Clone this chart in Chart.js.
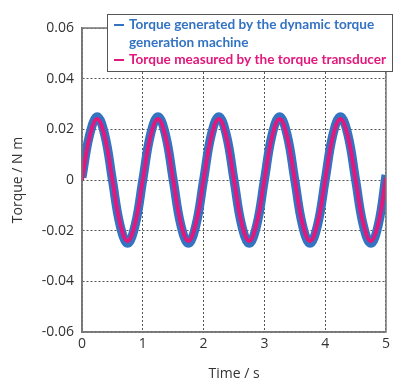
<!DOCTYPE html>
<html>
<head>
<meta charset="utf-8">
<script src="https://cdn.jsdelivr.net/npm/chart.js@4"></script>
<style>
  html, body { margin: 0; padding: 0; background: #fff; }
  #wrap { width: 394px; height: 382px; }
</style>
</head>
<body>
<div id="wrap"><canvas id="myChart"></canvas></div>
<script>
// time in s, one sample every 0.125 s
const times = [0, 0.125, 0.25, 0.375, 0.5, 0.625, 0.75, 0.875,
  1, 1.125, 1.25, 1.375, 1.5, 1.625, 1.75, 1.875,
  2, 2.125, 2.25, 2.375, 2.5, 2.625, 2.75, 2.875,
  3, 3.125, 3.25, 3.375, 3.5, 3.625, 3.75, 3.875,
  4, 4.125, 4.25, 4.375, 4.5, 4.625, 4.75, 4.875, 5]

// torque in N m
const generated = [0.001, 0.0178, 0.025, 0.0177, 0, -0.0177, -0.025, -0.0177,
  0, 0.0177, 0.025, 0.0177, 0, -0.0177, -0.025, -0.0177,
  0, 0.0177, 0.025, 0.0177, 0, -0.0177, -0.025, -0.0177,
  0, 0.0177, 0.025, 0.0177, 0, -0.0177, -0.025, -0.0177,
  0, 0.0177, 0.025, 0.0177, 0, -0.0177, -0.025, -0.0176, 0.002]

const measured = [0, 0.0171, 0.0241, 0.017, 0, -0.017, -0.0241, -0.017,
  0, 0.017, 0.0241, 0.017, 0, -0.017, -0.0241, -0.017,
  0, 0.017, 0.0241, 0.017, 0, -0.017, -0.0241, -0.017,
  0, 0.017, 0.0241, 0.017, 0, -0.017, -0.0241, -0.017,
  0, 0.017, 0.0241, 0.017, 0, -0.017, -0.0241, -0.017, 0.001]

const labels = ['Torque generated by the dynamic torque', 'generation machine', 'Torque measured by the torque transducer']
const yTicks = [-0.06, -0.04, -0.02, 0, 0.02, 0.04, 0.06]

const blue = '#3373c2'
const pink = '#e2187c'
const textFont = { family: 'Open Sans', size: 14 }

const toPoints = (arr) => arr.map((v, i) => ({ x: times[i], y: v }))

// solid frame around the plot + legend box
const frame = {
  id: 'frame',
  afterDatasetsDraw(chart) {
    const { ctx, chartArea: a } = chart
    ctx.save()
    ctx.strokeStyle = '#777'
    ctx.lineWidth = 1.5
    ctx.strokeRect(a.left, a.top, a.right - a.left, a.bottom - a.top)
    ctx.restore()
  },
  afterDraw(chart) {
    const ctx = chart.ctx
    ctx.save()
    ctx.fillStyle = '#fff'
    ctx.fillRect(107, 14, 286, 58)
    ctx.strokeStyle = '#555'
    ctx.lineWidth = 1
    ctx.strokeRect(107.5, 14.5, 285, 57)
    ctx.font = 'bold 13.6px Lato'
    ctx.textBaseline = 'middle'
    ctx.lineWidth = 2
    ctx.strokeStyle = blue
    ctx.beginPath(); ctx.moveTo(114, 25); ctx.lineTo(124, 25); ctx.stroke()
    ctx.fillStyle = blue
    ctx.fillText(labels[0], 129, 25)
    ctx.fillText(labels[1], 129, 43)
    ctx.strokeStyle = pink
    ctx.beginPath(); ctx.moveTo(114, 60); ctx.lineTo(124, 60); ctx.stroke()
    ctx.fillStyle = pink
    ctx.fillText(labels[2], 129, 60)
    ctx.restore()
  }
}

const chart1 = document.querySelector('#myChart')

new Chart(chart1, {
  type: 'line',
  data: {
    datasets: [
      {
        label: labels[0] + ' ' + labels[1],
        data: toPoints(generated),
        borderColor: blue,
        borderWidth: 9,
        pointRadius: 0,
        tension: 0.4,
        fill: false,
        order: 2
      },
      {
        label: labels[2],
        data: toPoints(measured),
        borderColor: pink,
        borderWidth: 4,
        pointRadius: 0,
        tension: 0.4,
        fill: false,
        order: 1
      }
    ]
  },
  options: {
    responsive: true,
    maintainAspectRatio: false,
    animation: false,
    layout: { padding: { top: 28, right: 8, left: 0, bottom: 0 } },
    plugins: {
      legend: { display: false },
      tooltip: { enabled: false }
    },
    scales: {
      x: {
        type: 'linear',
        min: 0,
        max: 5,
        afterFit: (s) => { s.height = 50 },
        ticks: { stepSize: 1, color: '#333', font: textFont, padding: 4 },
        grid: { color: '#555', lineWidth: 1, drawTicks: false },
        border: { display: true, color: '#777', width: 1.5, dash: [2, 2] },
        title: { display: true, text: 'Time / s', color: '#333', font: textFont, padding: { top: 0, bottom: 0 } }
      },
      y: {
        min: -0.06,
        max: 0.06,
        afterFit: (s) => { s.width = 82 },
        afterBuildTicks: (s) => { s.ticks = yTicks.map(v => ({ value: v })) },
        ticks: {
          color: '#333',
          font: textFont,
          padding: 8,
          callback: (v) => v === 0 ? '0' : v.toFixed(2)
        },
        grid: { color: '#555', lineWidth: 1, drawTicks: false },
        border: { display: true, color: '#777', width: 1.5, dash: [2, 2] },
        title: { display: true, text: 'Torque / N m', color: '#333', font: textFont, padding: { top: 10, bottom: 0 } }
      }
    }
  },
  plugins: [frame]
})
</script>
</body>
</html>
